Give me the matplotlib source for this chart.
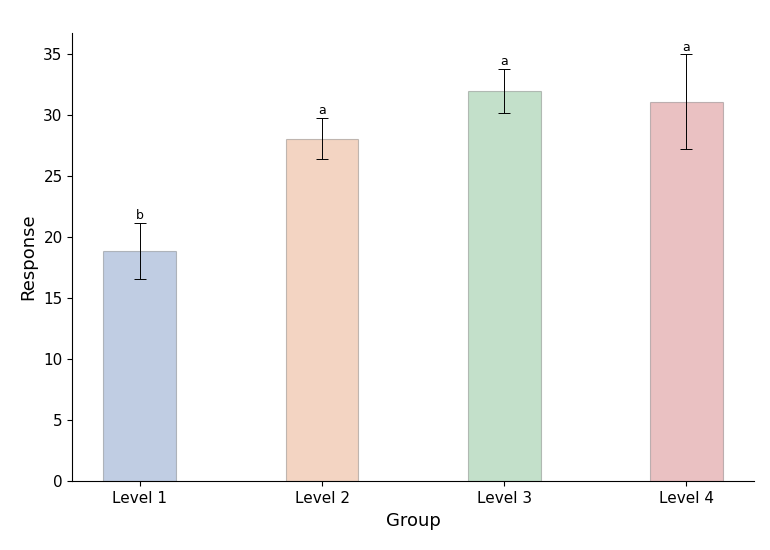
import numpy as np
import matplotlib.pyplot as plt

groups = ['Level 1', 'Level 2', 'Level 3', 'Level 4']
means = [18.9, 28.1, 32.0, 31.1]
errs = [2.3, 1.7, 1.8, 3.9]
letters = ['b', 'a', 'a', 'a']
colors = ['#4C72B0', '#DD8452', '#55A868', '#C44E52']

fig, ax = plt.subplots(figsize=(7.7, 5.5), dpi=100)
x = np.arange(len(groups))
ax.bar(x, means, width=0.4, color=colors, alpha=0.35, edgecolor='#555555',
       linewidth=0.8)
ax.errorbar(x, means, yerr=errs, fmt='none', ecolor='black', elinewidth=0.7,
            capsize=4, capthick=0.7)
for xi, m, e, l in zip(x, means, errs, letters):
    ax.text(xi, m + e + 0.05, l, ha='center', va='bottom', fontsize=9)

ax.set_xticks(x)
ax.set_xticklabels(groups, fontsize=11)
ax.tick_params(axis='y', labelsize=11)
ax.set_xlabel('Group', fontsize=13)
ax.set_ylabel('Response', fontsize=13)
ax.spines['top'].set_visible(False)
ax.spines['right'].set_visible(False)
fig.subplots_adjust(left=0.094, right=0.979, top=0.94, bottom=0.125)
fig.savefig('out.png')
